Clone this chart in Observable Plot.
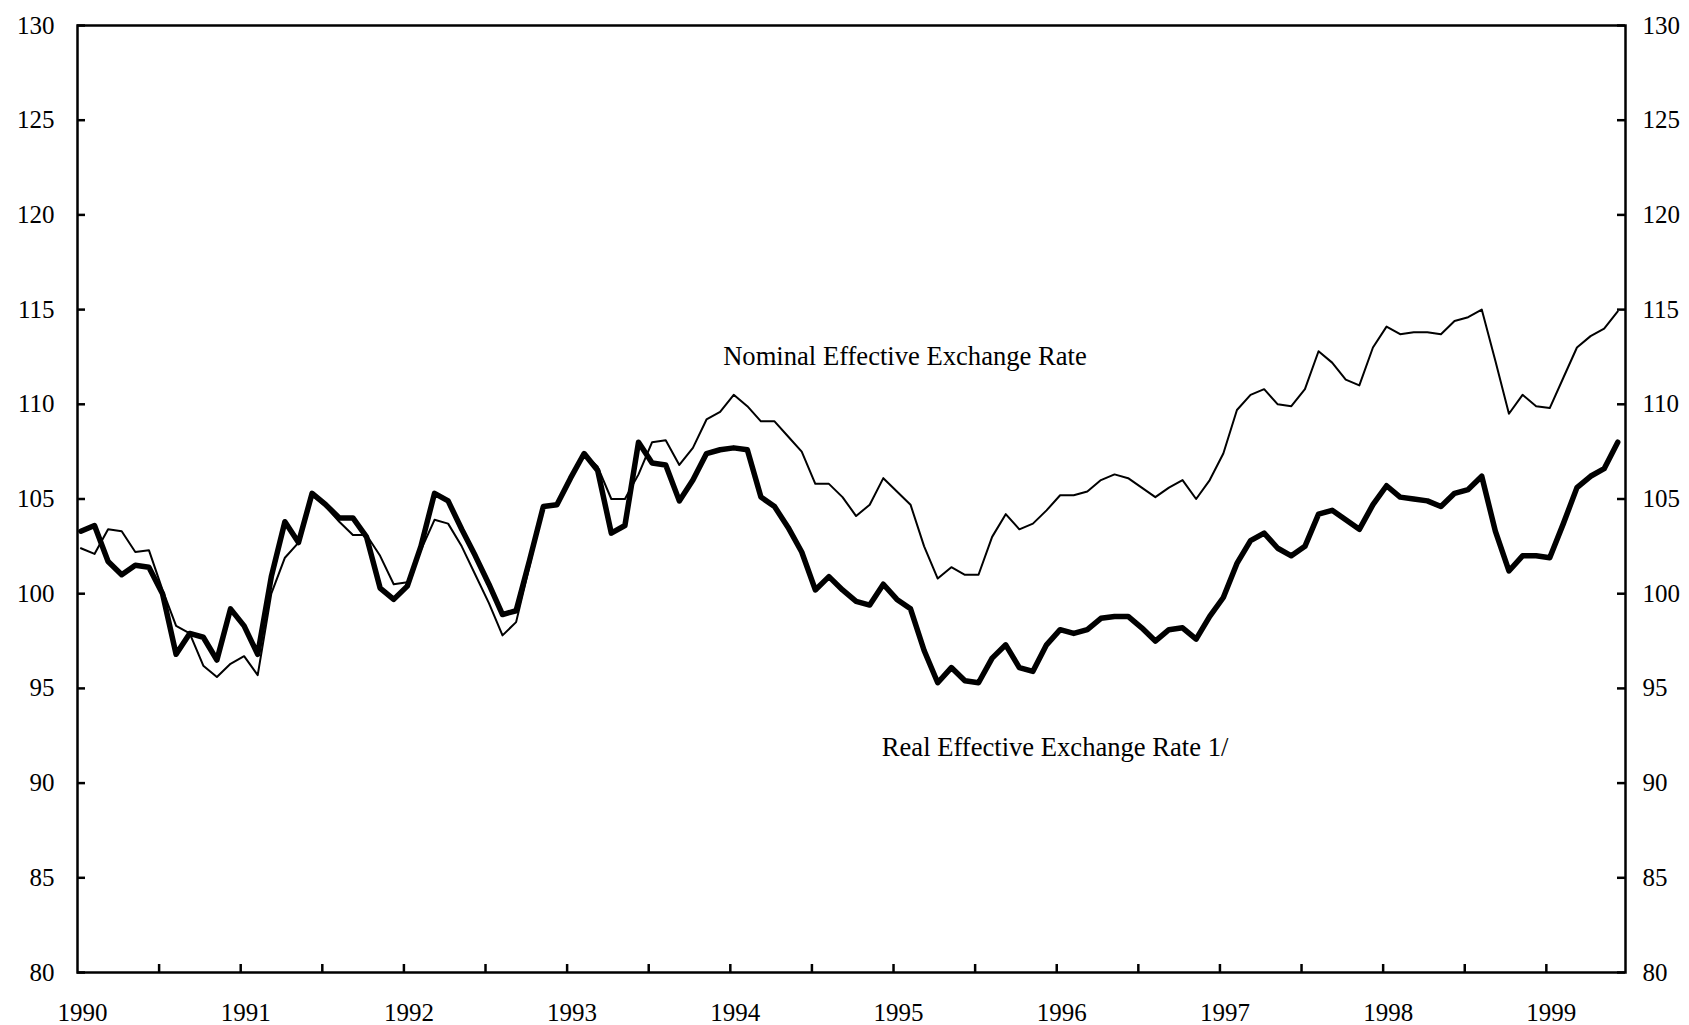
<!DOCTYPE html>
<html><head><meta charset="utf-8">
<script src="https://cdn.jsdelivr.net/npm/d3@7"></script>
<script src="https://cdn.jsdelivr.net/npm/@observablehq/plot@0.6"></script>
<style>
html,body{margin:0;padding:0;background:#fff;}
#chart{width:1689px;height:1025px;}
</style></head><body><div id="chart"></div>
<script>
// Monthly series, January 1990 onward
const startYear = 1990;
const nominal = [
  102.4, 102.1, 103.4, 103.3, 102.2, 102.3, 100.2, 98.3, 97.9, 96.2, 95.6, 96.3,
  96.7, 95.7, 100.0, 101.9, 102.7, 105.2, 104.6, 103.8, 103.1, 103.1, 102.0, 100.5,
  100.6, 102.3, 103.9, 103.7, 102.5, 101.0, 99.5, 97.8, 98.5, 101.5, 104.6, 104.7,
  106.1, 107.4, 106.7, 105.0, 105.0, 106.3, 108.0, 108.1, 106.8, 107.7, 109.2, 109.6,
  110.5, 109.9, 109.1, 109.1, 108.3, 107.5, 105.8, 105.8, 105.1, 104.1, 104.7, 106.1,
  105.4, 104.7, 102.5, 100.8, 101.4, 101.0, 101.0, 103.0, 104.2, 103.4, 103.7, 104.4,
  105.2, 105.2, 105.4, 106.0, 106.3, 106.1, 105.6, 105.1, 105.6, 106.0, 105.0, 106.0,
  107.4, 109.7, 110.5, 110.8, 110.0, 109.9, 110.8, 112.8, 112.2, 111.3, 111.0, 113.0,
  114.1, 113.7, 113.8, 113.8, 113.7, 114.4, 114.6, 115.0, 112.3, 109.5, 110.5, 109.9,
  109.8, 111.4, 113.0, 113.6, 114.0, 114.9
];
const real = [
  103.3, 103.6, 101.7, 101.0, 101.5, 101.4, 100.0, 96.8, 97.9, 97.7, 96.5, 99.2,
  98.3, 96.8, 100.9, 103.8, 102.7, 105.3, 104.7, 104.0, 104.0, 103.0, 100.3, 99.7,
  100.4, 102.5, 105.3, 104.9, 103.4, 102.0, 100.5, 98.9, 99.1, 101.8, 104.6, 104.7,
  106.1, 107.4, 106.5, 103.2, 103.6, 108.0, 106.9, 106.8, 104.9, 106.0, 107.4, 107.6,
  107.7, 107.6, 105.1, 104.6, 103.5, 102.2, 100.2, 100.9, 100.2, 99.6, 99.4, 100.5,
  99.7, 99.2, 97.0, 95.3, 96.1, 95.4, 95.3, 96.6, 97.3, 96.1, 95.9, 97.3,
  98.1, 97.9, 98.1, 98.7, 98.8, 98.8, 98.2, 97.5, 98.1, 98.2, 97.6, 98.8,
  99.8, 101.6, 102.8, 103.2, 102.4, 102.0, 102.5, 104.2, 104.4, 103.9, 103.4, 104.7,
  105.7, 105.1, 105.0, 104.9, 104.6, 105.3, 105.5, 106.2, 103.3, 101.2, 102.0, 102.0,
  101.9, 103.7, 105.6, 106.2, 106.6, 108.0
];
const yearTicks = [1990, 1991, 1992, 1993, 1994, 1995, 1996, 1997, 1998, 1999];
const halfYearTicks = [1990.5, 1991, 1991.5, 1992, 1992.5, 1993, 1993.5, 1994, 1994.5, 1995,
  1995.5, 1996, 1996.5, 1997, 1997.5, 1998, 1998.5, 1999];
const yTicks = [80, 85, 90, 95, 100, 105, 110, 115, 120, 125, 130];
const nominalLabel = "Nominal Effective Exchange Rate";
const realLabel = "Real Effective Exchange Rate 1/";

const table = nominal.map((v, i) => ({
  t: startYear + (i + 0.25) / 12,
  nominal: v,
  real: real[i]
}));

const W = 1689, H = 1025, mL = 77, mR = 64, mT = 25, mB = 53;
const pw = W - mL - mR, ph = H - mT - mB;
const font = "'Liberation Serif', 'Times New Roman', serif";

const chart = Plot.plot({
  width: W, height: H,
  marginLeft: mL, marginRight: mR, marginTop: mT, marginBottom: mB,
  style: {fontFamily: font, fontSize: "25px", color: "#000", background: "#fff", overflow: "visible"},
  x: {domain: [1990, 1999.485]},
  y: {domain: [80, 130]},
  marks: [
    Plot.tickY(yTicks, {y: d => d, insetRight: pw - 8, stroke: "#000", strokeWidth: 2.5}),
    Plot.tickY(yTicks, {y: d => d, insetLeft: pw - 8, stroke: "#000", strokeWidth: 2.5}),
    Plot.tickX(halfYearTicks, {x: d => d, insetTop: ph - 8, stroke: "#000", strokeWidth: 2.5}),
    Plot.axisY({anchor: "left", ticks: yTicks, tickSize: 0, tickPadding: 23, fontSize: 25, label: null}),
    Plot.axisY({anchor: "right", ticks: yTicks, tickSize: 0, tickPadding: 17, fontSize: 25, label: null}),
    Plot.axisX({anchor: "bottom", ticks: yearTicks, tickSize: 0, tickPadding: 31, dx: 5, fontSize: 25,
      tickFormat: d => String(d), label: null}),
    Plot.line(table, {x: "t", y: "nominal", stroke: "#000", strokeWidth: 2, strokeLinejoin: "round"}),
    Plot.line(table, {x: "t", y: "real", stroke: "#000", strokeWidth: 5.5, strokeLinejoin: "round"}),
    Plot.frame({stroke: "#000", strokeWidth: 2.5}),
    Plot.text([nominalLabel], {text: d => d, x: 1995.07, y: 112.5, fontSize: 26.6, fill: "#000"}),
    Plot.text([realLabel], {text: d => d, x: 1995.99, y: 91.9, fontSize: 26.6, fill: "#000"})
  ]
});
document.getElementById("chart").appendChild(chart);
</script>
</body></html>
